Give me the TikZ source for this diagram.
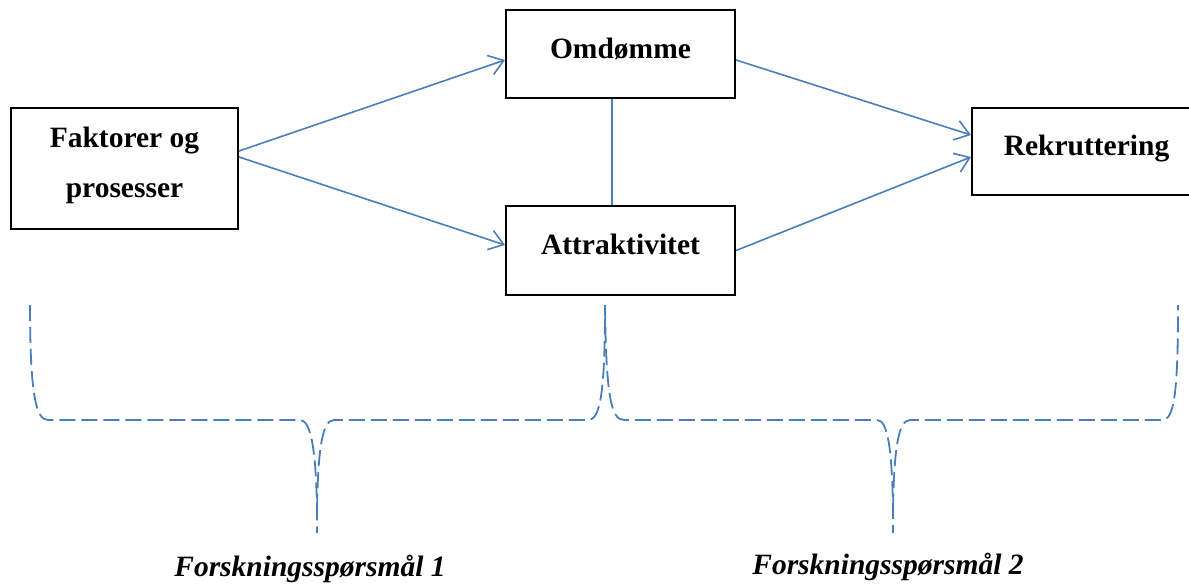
\documentclass[tikz,border=0pt]{standalone}
\usepackage{fontspec}
\setmainfont{Liberation Serif}
\usetikzlibrary{positioning, arrows.meta}
\definecolor{lineblue}{HTML}{4A7EBB}

\begin{document}
\begin{tikzpicture}[x=1pt, y=-1pt, >={Straight Barb[length=14pt, width=20pt, line width=1.6pt]},
    boxbase/.style={draw, line width=2pt, rectangle, align=center, font=\fontsize{29.5}{50}\selectfont\bfseries},
    box/.style={boxbase, text height=20pt, text depth=12pt},
    link/.style={draw=lineblue, line width=1.6pt},
    bracket/.style={draw=lineblue, line width=1.8pt, dash pattern=on 16pt off 6pt},
    question/.style={font=\fontsize{29.5}{34}\selectfont\bfseries\itshape}]

    \useasboundingbox (0,0) rectangle (1189,584);

    % Boxes
    \node[boxbase, minimum width=227pt, minimum height=121pt, text depth=12.5pt] (faktorer) at (124.5,168.5) {Faktorer og\\prosesser};
    \node[box, minimum width=229pt, minimum height=88pt] (omdomme) at (620.5,54) {Omdømme};
    \node[box, minimum width=229pt, minimum height=89pt] (attraktivitet) [below=106pt of omdomme] {Attraktivitet};
    \node[box, minimum width=229pt, minimum height=87pt] (rekruttering) at (1086.5,151.5) {Rekruttering};

    % Arrows
    \draw[link, ->] ([yshift=17.5pt]faktorer.east) -- ([yshift=-6pt]omdomme.west);
    \draw[link, ->] ([yshift=11.5pt]faktorer.east) -- ([yshift=5.5pt]attraktivitet.west);
    \draw[link, ->] ([yshift=-6pt]omdomme.east) -- ([yshift=16.5pt]rekruttering.west);
    \draw[link, ->] (attraktivitet.east) -- ([yshift=-5.5pt]rekruttering.west);
    \draw[link] ([xshift=-8.5pt]omdomme.south) -- ([xshift=-8.5pt]attraktivitet.north);

    % Braces
    \draw[bracket] (30,305) .. controls (30,395) and (36,420) .. (48,420) -- (300,420)
        .. controls (311,420) and (316,450) .. (317,510) -- (317,533);
    \draw[bracket] (317,510) .. controls (318,450) and (322,420) .. (334,420) -- (588,420)
        .. controls (600,420) and (605,395) .. (605,305);
    \draw[bracket] (605,305) .. controls (606,395) and (611,420) .. (624,420) -- (877,420)
        .. controls (888,420) and (892,450) .. (893,510) -- (893,533);
    \draw[bracket] (893,510) .. controls (894,450) and (898,420) .. (910,420) -- (1162,420)
        .. controls (1174,420) and (1178,395) .. (1178,305);

    % Labels
    \node[question] (rq1) at (310,569) {Forskningsspørsmål 1};
    \node[question] (rq2) at (888,567) {Forskningsspørsmål 2};

\end{tikzpicture}
\end{document}
